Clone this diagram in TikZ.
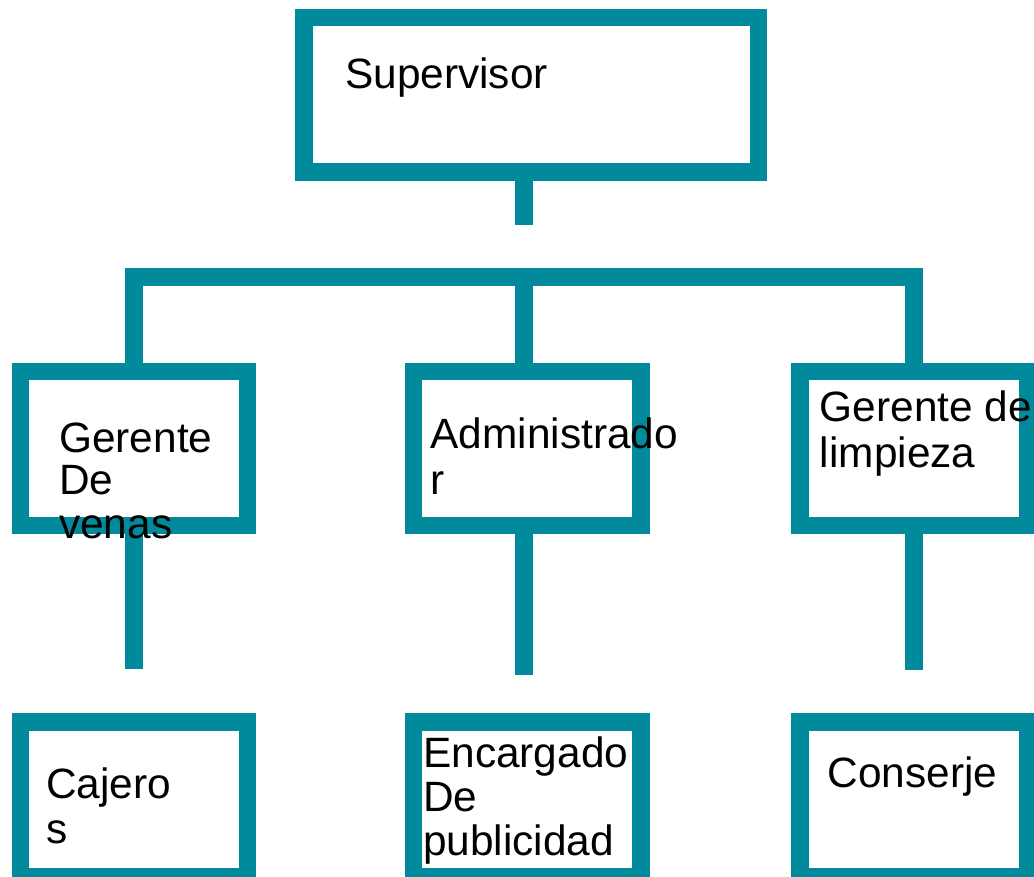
\documentclass[tikz,border=0pt]{standalone}
\usepackage{fontspec}
\setmainfont{Liberation Sans}
\definecolor{tealline}{RGB}{0,138,155}
\newcommand\lns[2][44pt]{\vtop{\baselineskip=#1\lineskiplimit=-100pt\halign{##\hfil\cr#2\crcr}}}
\begin{document}
\begin{tikzpicture}[x=1pt,y=-1pt,
  box/.style={draw=tealline, line width=17.5pt, rectangle, inner sep=0pt},
  conn/.style={draw=tealline, line width=17.5pt, line cap=butt, line join=miter},
  lbl/.style={anchor=base west, inner sep=0pt, font=\fontsize{42.4}{44}\selectfont}]
\useasboundingbox (0,0) rectangle (1034,877);
% boxes
\node[box, minimum width=454.7pt, minimum height=154.3pt] (sup) at (531.35,94.85) {};
\node[box, minimum width=227.2pt, minimum height=154.4pt] (gv) at (133.9,448.5) {};
\node[box, minimum width=227.5pt, minimum height=154.4pt] (adm) at (527,448.5) {};
\node[box, minimum width=227.7pt, minimum height=154.4pt] (gl) at (913.8,448.5) {};
\node[box, minimum width=227.2pt, minimum height=154.5pt] (caj) at (133.9,799.25) {};
\node[box, minimum width=227.5pt, minimum height=154.5pt] (enc) at (527,799.25) {};
\node[box, minimum width=227.7pt, minimum height=154.5pt] (con) at (913.8,799.25) {};
% connectors
\coordinate (stem) at (524,225.3);
\coordinate (bar) at (524,277);
\coordinate (barl) at (134,277);
\coordinate (barr) at (914,277);
\draw[conn] (sup.south -| stem) -- (stem);
\draw[conn] (gv.north -| barl) -- (barl) -- (barr) -- (gl.north -| barr);
\draw[conn] (bar) -- (adm.north -| bar);
\coordinate (e1) at (134,669.3);
\coordinate (e2) at (524,675);
\coordinate (e3) at (914,670);
\draw[conn] (gv.south -| e1) -- (e1);
\draw[conn] (adm.south -| e2) -- (e2);
\draw[conn] (gl.south -| e3) -- (e3);
% labels
\node[lbl] (tsup) at (345,89) {Supervisor};
\node[lbl] (tgv) at (59,452) {\lns[43pt]{Gerente\cr De\cr venas}};
\node[lbl] (tadm) at (430.5,448.5) {\lns[46pt]{Administrado\cr r}};
\node[lbl] (tgl) at (819.7,421.7) {\lns[46pt]{Gerente de\cr limpieza}};
\node[lbl] (tcaj) at (46,798) {\lns[45pt]{Cajero\cr s}};
\node[lbl] (tenc) at (423,767) {\lns[44pt]{Encargado\cr De\cr publicidad}};
\node[lbl] (tcon) at (827.3,787.3) {Conserje};
\end{tikzpicture}
\end{document}
